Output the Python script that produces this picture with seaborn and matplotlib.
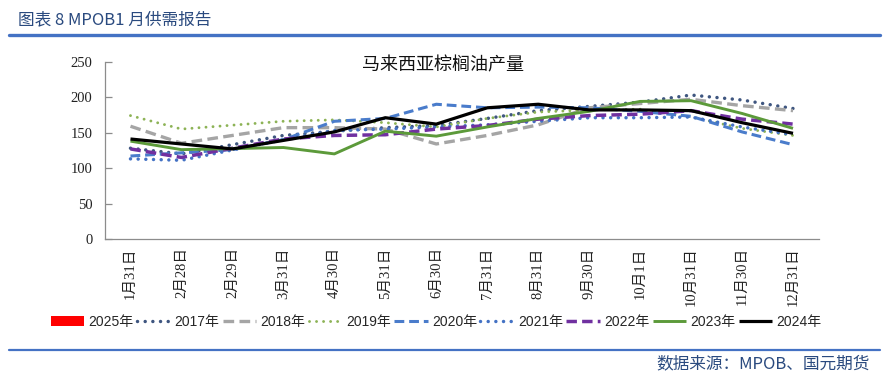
import numpy as np
import pandas as pd
import matplotlib
matplotlib.use("Agg")
import matplotlib.pyplot as plt
from matplotlib.patches import Patch
import seaborn as sns

nan = np.nan

# categories on the x axis (Excel date labels)
dates = ['1月31日', '2月28日', '2月29日', '3月31日', '4月30日', '5月31日', '6月30日',
         '7月31日', '8月31日', '9月30日', '10月1日', '10月31日', '11月30日', '12月31日']

# Malaysian palm oil production (10k t); gaps are bridged like in Excel
y2017 = [128, 120, nan, 146, 152, 157, 160, 170, 181, 187, 193, 203, 196, 184]
y2018 = [159, 135, nan, 157, 157, 155, 134, 146, 161, 185, 191, 197, 188, 181]
y2019 = [174, 155, nan, 166, 168, 164, 158, 170, 179, 182, 183, 172, 156, 146]
y2020 = [117, nan, 126, 140, 166, 170, 190, 185, 186, 185, 180, 173, 151, 133]
y2021 = [113, 111, nan, 140, 153, 155, 158, 161, 166, 171, 171, 172, 158, 147]
y2022 = [127, 115, nan, 141, 146, 147, 155, 160, 169, 174, 176, 181, 169, 162]
y2023 = [138, 126, nan, 129, 120, 152, 145, 158, 170, 180, 194, 195, 177, 156]
y2024 = [141, nan, 127, 139, 151, 171, 162, 185, 190, 182, 182, 181, 164, 149]

series = [
    ('2017年', y2017, '#3F5680', (0, (0.01, 2.2)), 2.5, 'round'),
    ('2018年', y2018, '#A5A5A5', (0, (3.2, 1.6)), 2.4, 'butt'),
    ('2019年', y2019, '#8DB356', (0, (0.01, 2.4)), 2.1, 'round'),
    ('2020年', y2020, '#4A7CCB', (0, (3.2, 1.6)), 2.2, 'butt'),
    ('2021年', y2021, '#4472C4', (0, (0.01, 2.2)), 2.5, 'round'),
    ('2022年', y2022, '#7030A0', (0, (3.0, 1.5)), 2.5, 'butt'),
    ('2023年', y2023, '#5C9A3A', '-', 2.1, 'butt'),
    ('2024年', y2024, '#000000', '-', 2.3, 'butt'),
]

sns.set_theme(style="white")
plt.rcParams['font.family'] = ['Liberation Sans', 'Noto Sans CJK SC']

fig = plt.figure(figsize=(8.92, 3.78), dpi=100)
ax = fig.add_axes([105 / 892, 1 - 239 / 378, 713.5 / 892, 177.3 / 378])

for name, vals, color, ls, lw, cap in series:
    df = pd.DataFrame({'pos': np.arange(len(dates)), 'val': vals}).dropna()
    sns.lineplot(data=df, x='pos', y='val', ax=ax, color=color, linewidth=lw,
                 sort=False, label=name, legend=False)
    line = ax.lines[-1]
    line.set_linestyle(ls)
    line.set_dash_capstyle(cap)
    line.set_solid_capstyle('butt')

ax.set_xlim(-0.5, len(dates) - 0.5)
ax.set_ylim(0, 250)
ax.set_xlabel('')
ax.set_ylabel('')

serif = ['Liberation Serif', 'Noto Sans CJK SC']
ax.set_xticks(np.arange(len(dates)))
ax.set_xticklabels(dates, rotation=90, fontsize=10.5, family=serif, color='#222222')
ax.set_xticks(np.arange(-0.5, len(dates)), minor=True)
ax.tick_params(axis='x', which='major', length=0, pad=6)
ax.tick_params(axis='x', which='minor', direction='in', length=5, color='#8C8C8C', width=0.9)
ax.set_yticks([0, 50, 100, 150, 200, 250])
ax.set_yticklabels(['0', '50', '100', '150', '200', '250'], fontsize=10.5, family=serif,
                   color='#222222')
ax.tick_params(axis='y', direction='in', length=5, color='#8C8C8C', width=0.9, pad=9, left=True)

for s in ['top', 'right']:
    ax.spines[s].set_visible(False)
for s in ['left', 'bottom']:
    ax.spines[s].set_color('#8C8C8C')
    ax.spines[s].set_linewidth(0.9)

# chart title inside the plot
fig.text(443 / 892, 1 - 65 / 378, '马来西亚棕榈油产量', ha='center', va='center',
         fontsize=13, family=['Noto Sans CJK SC'], color='#111111')

# legend: 2025 has no data, only a red box
handles = [Patch(facecolor='#FF0000', edgecolor='none')] + ax.lines[:len(series)]
labels = ['2025年'] + [s[0] for s in series]
fig.legend(handles, labels, loc='center', bbox_to_anchor=(436 / 892, 1 - 322 / 378),
           ncol=9, frameon=False, fontsize=10, handlelength=2.4, handletextpad=0.3,
           columnspacing=0.25, borderpad=0)

# report header and footer
blue = '#4472C4'
fig.text(18 / 892, 1 - 20 / 378, '图表 8 MPOB1 月供需报告', ha='left', va='center',
         fontsize=12, family=['Noto Sans CJK SC'], color='#2A4A7F')
fig.add_artist(plt.Line2D([9 / 892, 880 / 892], [1 - 35 / 378, 1 - 35 / 378],
                          color=blue, linewidth=2.4))
fig.add_artist(plt.Line2D([9 / 892, 880 / 892], [1 - 350 / 378, 1 - 350 / 378],
                          color=blue, linewidth=1.6))
fig.text(870 / 892, 1 - 364 / 378, '数据来源：MPOB、国元期货', ha='right', va='center',
         fontsize=12, family=['Noto Sans CJK SC'], color='#2A4A7F')

fig.savefig('out.png', dpi=100)
